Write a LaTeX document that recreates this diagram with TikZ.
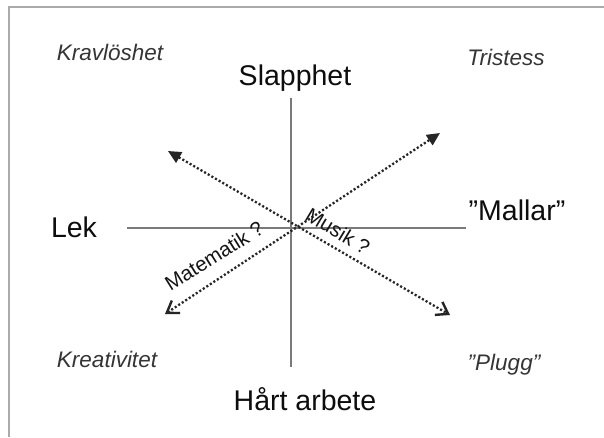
\documentclass[tikz,border=0pt]{standalone}
\usepackage{fontspec}
\setmainfont{Liberation Sans}
\usetikzlibrary{arrows.meta}
\definecolor{framegray}{HTML}{ABABAB}
\definecolor{axisgray}{HTML}{7A7A7A}
\definecolor{cornertext}{HTML}{353535}
\definecolor{arrowdark}{HTML}{262626}
\tikzset{
  corner/.style={anchor=base, inner sep=0pt, font=\fontsize{22.5}{24}\selectfont\itshape, text=cornertext},
  pole/.style={anchor=base, inner sep=0pt, font=\fontsize{28.5}{30}\selectfont, text=black!95},
  armlabel/.style={inner sep=0pt, font=\fontsize{20.5}{22}\selectfont, text=black!92},
  axisline/.style={draw=axisgray, line width=1.6pt},
  dotarrow/.style={draw=arrowdark, line width=2.3pt, dash pattern=on 2.1pt off 2.1pt},
}
\begin{document}
\begin{tikzpicture}[x=1pt,y=-1pt]
\useasboundingbox (0,0) rectangle (604,437);
\fill[white] (0,0) rectangle (604,437);
% frame (top and left edges)
\draw[framegray, line width=2.2pt] (9,437) -- (9,7) -- (604,7);

% axes
\coordinate (vtop) at (291,98);
\coordinate (vbot) at (291,367);
\coordinate (hleft) at (127,228);
\coordinate (hright) at (466,228);
\draw[axisline] (vtop) -- (vbot);
\draw[axisline] (hleft) -- (hright);

% pole labels
\node[pole] (slapphet) at (295,85) {Slapphet};
\node[pole] (hart) at (305,410) {Hårt arbete};
\node[pole] (lek) at (74,237) {Lek};
\node[pole] (mallar) at (517,220) {”Mallar”};

% corner labels
\node[corner] (kravloshet) at (110,60) {Kravlöshet};
\node[corner] (tristess) at (506,65) {Tristess};
\node[corner] (kreativitet) at (107,367) {Kreativitet};
\node[corner] (plugg) at (504,370) {”Plugg”};

% dotted arrows
\coordinate (nw) at (168,151);
\coordinate (se) at (450,315);
\coordinate (sw) at (165,314);
\coordinate (ne) at (440,133);
\draw[dotarrow, {Triangle[length=13pt,width=12pt,fill=arrowdark]}-{Straight Barb[length=11pt,width=15pt,line width=2.4pt]}] (nw) -- (se);
\draw[dotarrow, {Straight Barb[length=11pt,width=15pt,line width=2.4pt]}-{Triangle[length=13pt,width=12pt,fill=arrowdark]}] (sw) -- (ne);

% arm labels
\node[armlabel, rotate=32] (matematik) at (214,256) {Matematik ?};
\node[armlabel, rotate=-31] (musik) at (338,231) {Musik ?};
\end{tikzpicture}
\end{document}
